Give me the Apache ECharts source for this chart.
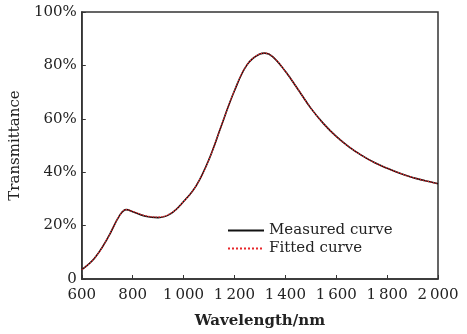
<!DOCTYPE html>
<html><head><meta charset="utf-8">
<script src="https://cdn.jsdelivr.net/npm/echarts@6/dist/echarts.min.js"></script>
<style>html,body{margin:0;padding:0;background:#fff}#c{width:467px;height:334px}</style>
</head><body><div id="c"></div>
<script>
const wavelengths = [600,650,700,750,775,800,850,900,950,1000,1050,1100,1150,1200,1250,1300,1320,1350,1400,1450,1500,1550,1600,1650,1700,1750,1800,1850,1900,1950,2000];
const measured =    [3.5,7.8,15,24,26,25.2,23.5,23.0,24.5,29,35,44.8,57.8,70.5,80.3,84.3,84.6,83.3,77.8,71,64,58.2,53.4,49.5,46.3,43.6,41.5,39.6,38,36.8,35.7];
const fitted =      [3.5,7.8,15,24,26,25.3,23.7,23.2,24.6,29,35,44.8,57.8,70.5,80.3,84.3,84.6,83.3,77.8,71,64,58.2,53.4,49.5,46.3,43.6,41.5,39.6,38,36.8,35.7];
const xTicks = {min:600, max:2000, interval:200};
const yTicks = {min:0, max:100, interval:20};
const seriesNames = ['Measured curve','Fitted curve'];

const font = 'DejaVu Serif';
const chart = echarts.init(document.getElementById('c'));
chart.setOption({
  animation:false,
  grid:{left:79,right:29,top:12,bottom:53,show:true,borderColor:'#333',borderWidth:1.5,backgroundColor:'transparent'},
  legend:{
    left:222, top:218, orient:'vertical', itemWidth:36, itemHeight:12, itemGap:3,
    data:seriesNames,
    itemStyle:{opacity:0, borderWidth:0},
    textStyle:{fontFamily:font,fontSize:15,color:'#222'}
  },
  xAxis:{
    type:'value', min:xTicks.min, max:xTicks.max, interval:xTicks.interval,
    name:'Wavelength/nm', nameLocation:'middle', nameGap:35,
    nameTextStyle:{fontFamily:font,fontSize:15,fontWeight:'bold',color:'#222'},
    axisLine:{lineStyle:{color:'#333',width:1.5}},
    axisTick:{inside:true,length:4,lineStyle:{color:'#333'}},
    axisLabel:{fontFamily:font,fontSize:15,color:'#222',margin:9,
      formatter:v=> v>=1000 ? String(v).slice(0,1)+'\u2009'+String(v).slice(1) : String(v)},
    splitLine:{show:false}
  },
  yAxis:{
    type:'value', min:yTicks.min, max:yTicks.max, interval:yTicks.interval,
    name:'Transmittance', nameLocation:'middle', nameGap:52,
    nameTextStyle:{fontFamily:font,fontSize:15,color:'#222'},
    axisLine:{show:true,lineStyle:{color:'#333',width:1.5}},
    axisTick:{show:true,inside:true,length:4,lineStyle:{color:'#333'}},
    axisLabel:{fontFamily:font,fontSize:15,color:'#222',margin:5,
      formatter:v=> v===0 ? '0' : v+'%'},
    splitLine:{show:false}
  },
  series:[
    {name:seriesNames[0],type:'line',smooth:0.4,showSymbol:false,symbol:'none',
     data:wavelengths.map((w,i)=>[w,measured[i]]),
     lineStyle:{color:'#111',width:1.6},itemStyle:{color:'#111'}},
    {name:seriesNames[1],type:'line',smooth:0.4,showSymbol:false,symbol:'none',
     data:wavelengths.map((w,i)=>[w,fitted[i]]),
     lineStyle:{color:'#e8262a',width:1.3,type:'dotted'},itemStyle:{color:'#e8262a'}}
  ]
});
</script></body></html>
